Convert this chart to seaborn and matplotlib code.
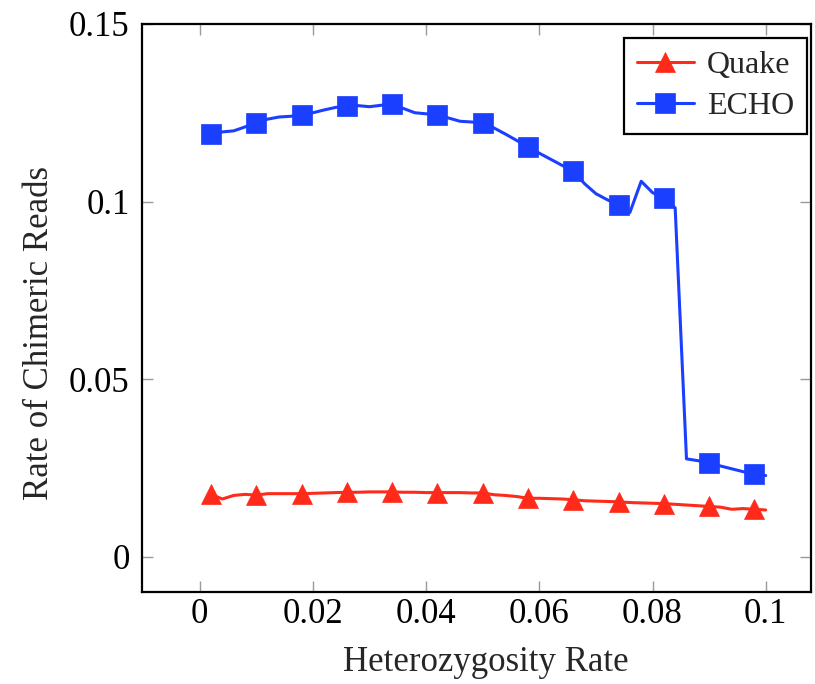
import matplotlib
matplotlib.use("Agg")
import matplotlib.pyplot as plt
import seaborn as sns

# Heterozygosity rate (x) - one point every 0.002, marks on every 4th point
het_rate = [0.002, 0.004, 0.006, 0.008, 0.010, 0.012, 0.014, 0.016, 0.018, 0.020,
            0.022, 0.024, 0.026, 0.028, 0.030, 0.032, 0.034, 0.036, 0.038, 0.040,
            0.042, 0.044, 0.046, 0.048, 0.050, 0.052, 0.054, 0.056, 0.058, 0.060,
            0.062, 0.064, 0.066, 0.068, 0.070, 0.072, 0.074, 0.076, 0.078, 0.080,
            0.082, 0.084, 0.086, 0.088, 0.090, 0.092, 0.094, 0.096, 0.098, 0.100]

# Rate of chimeric reads
quake = [0.0175, 0.0162, 0.0172, 0.0175, 0.0173, 0.0177, 0.0177, 0.0177, 0.0177, 0.0178,
         0.0179, 0.0180, 0.0181, 0.0181, 0.0182, 0.0182, 0.0182, 0.0181, 0.0181, 0.0180,
         0.0180, 0.0180, 0.0180, 0.0179, 0.0179, 0.0174, 0.0172, 0.0169, 0.0164, 0.0164,
         0.0163, 0.0162, 0.0160, 0.0157, 0.0156, 0.0155, 0.0154, 0.0152, 0.0151, 0.0150,
         0.0149, 0.0147, 0.0145, 0.0143, 0.0141, 0.0139, 0.0133, 0.0135, 0.0133, 0.0131]

echo = [0.1191, 0.1196, 0.1199, 0.1210, 0.1222, 0.1232, 0.1238, 0.1240, 0.1243, 0.1250,
        0.1258, 0.1265, 0.1270, 0.1270, 0.1267, 0.1271, 0.1274, 0.1262, 0.1250, 0.1247,
        0.1245, 0.1235, 0.1226, 0.1224, 0.1222, 0.1207, 0.1190, 0.1172, 0.1154, 0.1136,
        0.1119, 0.1102, 0.1085, 0.1050, 0.1022, 0.1005, 0.0990, 0.0969, 0.1057, 0.1025,
        0.1010, 0.0982, 0.0275, 0.0270, 0.0263, 0.0255, 0.0247, 0.0239, 0.0232, 0.0228]

x_ticks = [0, 0.02, 0.04, 0.06, 0.08, 0.1]
x_labels = ["0", "0.02", "0.04", "0.06", "0.08", "0.1"]
y_ticks = [0, 0.05, 0.1, 0.15]
y_labels = ["0", "0.05", "0.1", "0.15"]

red = "#ff2a1a"
blue = "#1a3fff"

sns.set_style("ticks")
plt.rcParams["font.family"] = ["Liberation Serif", "DejaVu Serif"]

fig = plt.figure(figsize=(8.15, 6.84), dpi=100)
ax = fig.add_axes([142 / 815, 1 - 592 / 684, 669 / 815, 568 / 684])

sns.lineplot(x=het_rate, y=quake, ax=ax, color=red, linewidth=2.2, marker="^",
             markevery=4, markersize=14.5, markeredgecolor=red, markeredgewidth=0.5,
             sort=False, errorbar=None, label="Quake")
sns.lineplot(x=het_rate, y=echo, ax=ax, color=blue, linewidth=2.2, marker="s",
             markevery=4, markersize=14, markeredgecolor=blue, markeredgewidth=0.5,
             sort=False, errorbar=None, label="ECHO")

ax.set_xlim(-0.0102, 0.108)
ax.set_ylim(-0.01, 0.15)
ax.set_xticks(x_ticks)
ax.set_xticklabels(x_labels)
ax.set_yticks(y_ticks)
ax.set_yticklabels(y_labels)

ax.tick_params(direction="in", length=8, width=1, color="#9a9a9a",
               top=True, right=True, labelsize=25, labelcolor="black")
ax.tick_params(axis="x", pad=4)
ax.tick_params(axis="y", pad=9)

for side in ["left", "right", "top", "bottom"]:
    ax.spines[side].set_visible(True)
    ax.spines[side].set_color("black")
    ax.spines[side].set_linewidth(1.6)

ax.set_xlabel("Heterozygosity Rate", fontsize=25)
ax.set_ylabel("Rate of Chimeric Reads", fontsize=25)
ax.xaxis.set_label_coords(0.514, -0.095)
ax.yaxis.set_label_coords(-0.129, 0.456)

leg = ax.legend(loc="upper right", bbox_to_anchor=(0.994, 0.975), borderaxespad=0,
                fontsize=23, frameon=True, fancybox=False, edgecolor="black",
                framealpha=1, handlelength=1.8, handletextpad=0.4,
                labelspacing=0.35, borderpad=0.4)
leg.get_frame().set_linewidth(1.6)

fig.savefig("out.png", dpi=100)
